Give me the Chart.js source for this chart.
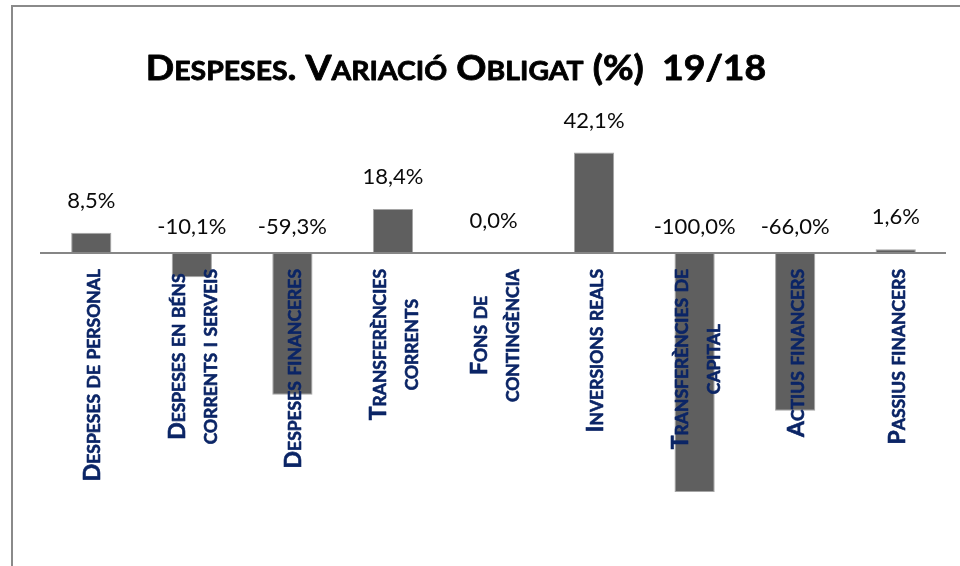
<!DOCTYPE html>
<html>
<head>
<meta charset="utf-8">
<script src="https://cdn.jsdelivr.net/npm/chart.js@4"></script>
<style>
    html, body { margin: 0; padding: 0; background: #fff; }
    #wrap { position: relative; width: 960px; height: 566px; overflow: hidden; }
    #frame { position: absolute; left: 11px; top: 5px; width: 1000px; height: 600px;
             border-left: 2px solid #8a8a8a; border-top: 2px solid #8a8a8a; }
    canvas { position: absolute; left: 0; top: 0; }
</style>
</head>
<body>
<div id="wrap">
    <div id="frame"></div>
    <canvas id="chart" width="960" height="566"></canvas>
</div>
<script>
const titleText = 'Despeses. Variació Obligat (%)  19/18';

// one entry per bar, each entry = lines of the label
const categories = [
    ['Despeses de personal'],
    ['Despeses en béns', 'corrents i serveis'],
    ['Despeses financeres'],
    ['Transferències', 'corrents'],
    ['Fons de', 'contingència'],
    ['Inversions reals'],
    ['Transferències de', 'capital'],
    ['Actius financers'],
    ['Passius financers']
];

const variacio = [8.5, -10.1, -59.3, 18.4, 0.0, 42.1, -100.0, -66.0, 1.6];

function fmt(v) {
    return v.toFixed(1).replace('.', ',') + '%';
}

// split text in runs: lowercase letters become smaller capitals
function smallCapsRuns(text) {
    const runs = [];
    for (const ch of text) {
        const small = ch !== ch.toUpperCase();
        const c = small ? ch.toUpperCase() : ch;
        const last = runs[runs.length - 1];
        if (last && last.small === small) last.t += c;
        else runs.push({ t: c, small: small });
    }
    return runs;
}

function measureSmallCaps(ctx, text, size) {
    let w = 0;
    smallCapsRuns(text).forEach(r => {
        ctx.font = 'bold ' + (r.small ? size * 0.76 : size) + 'px Lato';
        w += ctx.measureText(r.t).width;
    });
    return w;
}

function drawSmallCaps(ctx, text, x, y, size, weight) {
    // x = centre of the text, y = baseline; weight = extra stroke for heavier glyphs
    let cx = x - measureSmallCaps(ctx, text, size) / 2;
    ctx.textAlign = 'left';
    ctx.textBaseline = 'alphabetic';
    ctx.strokeStyle = ctx.fillStyle;
    ctx.lineWidth = weight;
    ctx.lineJoin = 'round';
    smallCapsRuns(text).forEach(r => {
        ctx.font = 'bold ' + (r.small ? size * 0.76 : size) + 'px Lato';
        ctx.fillText(r.t, cx, y);
        if (weight) ctx.strokeText(r.t, cx, y);
        cx += ctx.measureText(r.t).width;
    });
}

// draws the zero line, value labels, vertical category labels and the title
const annotations = {
    id: 'annotations',
    afterDatasetsDraw(chart) {
        const { ctx, chartArea, scales: { x, y } } = chart;
        const zero = y.getPixelForValue(0);
        ctx.save();

        ctx.strokeStyle = '#868686';
        ctx.lineWidth = 2;
        ctx.beginPath();
        ctx.moveTo(chartArea.left - 1, zero);
        ctx.lineTo(chartArea.right, zero);
        ctx.stroke();

        ctx.font = '22px Lato';
        ctx.fillStyle = '#0a0a0a';
        ctx.textAlign = 'center';
        ctx.textBaseline = 'middle';
        variacio.forEach((v, i) => {
            const cx = x.getPixelForValue(i);
            const ly = v >= 0 ? y.getPixelForValue(v) - 32 : zero - 26;
            ctx.fillText(fmt(v), cx, ly);
        });

        ctx.fillStyle = '#0b2566';
        categories.forEach((lines, i) => {
            const cx = x.getPixelForValue(i);
            const maxW = Math.max(...lines.map(l => measureSmallCaps(ctx, l, 23)));
            ctx.save();
            ctx.translate(cx, zero + 16);
            ctx.rotate(-Math.PI / 2);
            lines.forEach((l, j) => {
                drawSmallCaps(ctx, l, -maxW / 2, 9 + (j - (lines.length - 1) / 2) * 32, 23, 0.6);
            });
            ctx.restore();
        });

        // title, slightly widened to follow the original's wider face
        ctx.fillStyle = '#000';
        ctx.save();
        ctx.translate(456, 80);
        ctx.scale(1.1, 1);
        drawSmallCaps(ctx, titleText, 0, 0, 34, 0.8);
        ctx.restore();

        ctx.restore();
    }
};

new Chart(document.getElementById('chart'), {
    type: 'bar',
    data: {
        labels: categories,
        datasets: [{
            data: variacio,
            backgroundColor: '#5f5f5f',
            borderColor: '#a5a5a5',
            borderWidth: 1,
            borderSkipped: false,
            categoryPercentage: 1,
            barPercentage: 0.4
        }]
    },
    options: {
        responsive: false,
        animation: false,
        layout: { padding: { left: 41, right: 14, top: 145.5, bottom: 74 } },
        plugins: { legend: { display: false }, tooltip: { enabled: false }, title: { display: false } },
        scales: {
            x: { display: false },
            y: { display: false, min: -100, max: 45 }
        }
    },
    plugins: [annotations]
});
</script>
</body>
</html>
